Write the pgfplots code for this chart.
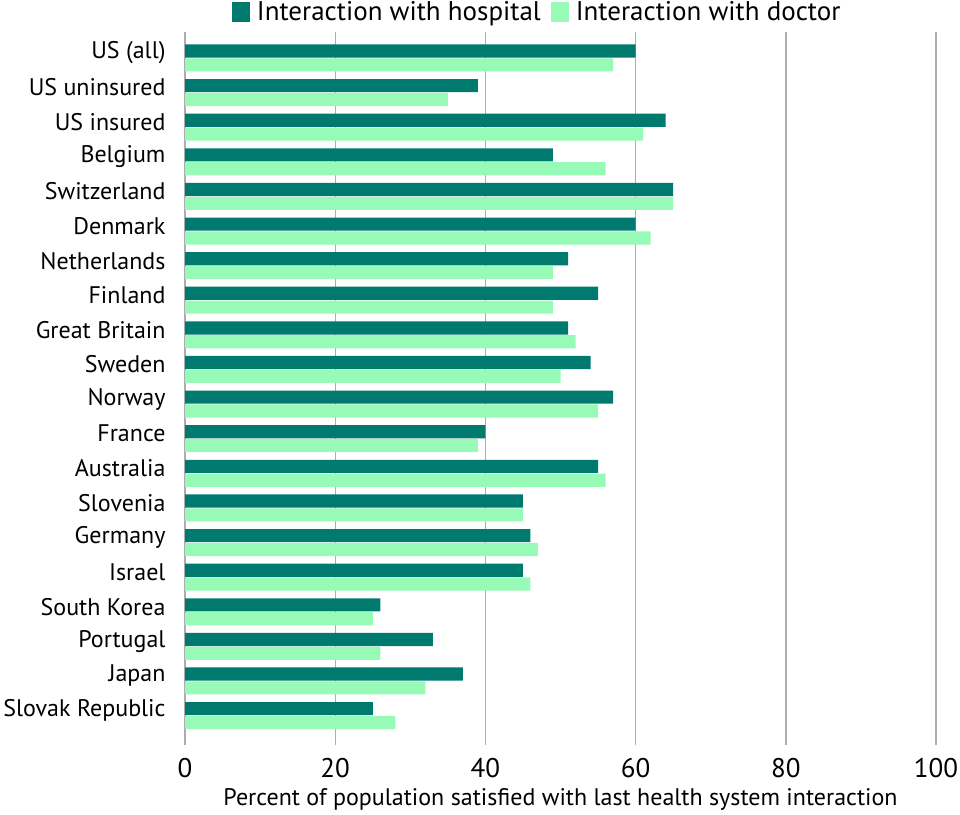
\documentclass[border=0pt]{standalone}
\usepackage{fontspec}
\setmainfont{PT Sans}
\usepackage{pgfplots}
\usepackage{pgfplotstable}
\pgfplotsset{compat=1.18}
\definecolor{hosp}{HTML}{00796F}
\definecolor{doc}{HTML}{97FBB7}
\definecolor{gridc}{HTML}{ADADAD}
\pgfplotstableread{
idx hospital doctor
0 60 57
1 39 35
2 64 61
3 49 56
4 65 65
5 60 62
6 51 49
7 55 49
8 51 52
9 54 50
10 57 55
11 40 39
12 55 56
13 45 45
14 46 47
15 45 46
16 26 25
17 33 26
18 37 32
19 25 28
}\datatable
\begin{document}
\begin{tikzpicture}
\path[use as bounding box] (0,0) rectangle (960bp,815bp);
\begin{axis}[
  at={(185bp,70bp)}, anchor=south west,
  width=751bp, height=713bp, scale only axis,
  xbar, y dir=reverse,
  xmin=0, xmax=100, ymin=-0.75, ymax=19.85,
  bar width=0.38,
  xtick={0,20,40,60,80,100},
  ytick={0,...,19},
  yticklabels={US (all),US uninsured,US insured,Belgium,Switzerland,Denmark,Netherlands,Finland,Great Britain,Sweden,Norway,France,Australia,Slovenia,Germany,Israel,South Korea,Portugal,Japan,Slovak Republic},
  /pgf/number format/assume math mode=true,
  xmajorgrids, grid style={gridc, line width=1.4bp},
  axis line style={draw=none},
  major tick length=0pt,
  tick label style={text=black},
  yticklabel style={font=\fontsize{24bp}{26bp}\selectfont, xshift=-16bp, yshift=5bp},
  xticklabel style={font=\fontsize{27bp}{29bp}\selectfont, yshift=-10bp},
  xlabel={Percent of population satisfied with last health system interaction},
  xlabel style={font=\fontsize{24bp}{26bp}\selectfont, yshift=-4bp},
  legend style={draw=none, at={(0.469,1.028)}, anchor=center, legend columns=2,
    font=\fontsize{27bp}{29bp}\selectfont, inner sep=0pt,
    /tikz/every odd column/.append style={column sep=5bp},
    /tikz/every even column/.append style={column sep=8bp}},
  legend image code/.code={\fill[#1] (0bp,-10bp) rectangle (18bp,10bp);},
]
\addplot[fill=hosp, draw=none, bar shift=-0.2] table[x=hospital, y=idx] {\datatable};
\addplot[fill=doc, draw=none, bar shift=0.2] table[x=doctor, y=idx] {\datatable};
\legend{Interaction with hospital, Interaction with doctor}
\end{axis}
\end{tikzpicture}
\end{document}
